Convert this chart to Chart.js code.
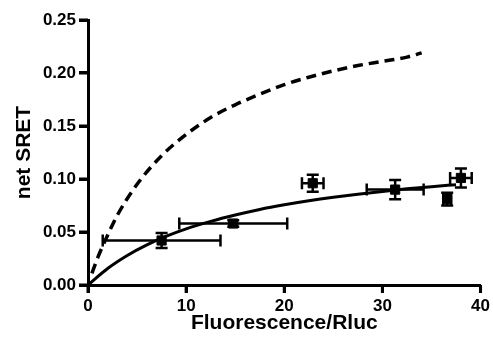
<!DOCTYPE html>
<html>
<head>
<meta charset="utf-8">
<script src="https://cdn.jsdelivr.net/npm/chart.js@4"></script>
<style>
  html, body { margin: 0; padding: 0; background: #fff; }
  canvas { display: block; }
</style>
</head>
<body>
<canvas id="chart" width="493" height="344"></canvas>
<script>
// measured points (mean, with x and y errors)
const pointX = [7.5, 14.8, 22.9, 31.3, 36.6, 38.0];
const pointY = [0.042, 0.058, 0.096, 0.090, 0.081, 0.101];
const pointXErr = [6.0, 5.5, 1.1, 2.9, 0.4, 1.1];
const pointYErr = [0.007, 0.003, 0.008, 0.009, 0.006, 0.009];

// solid fit curve
const fitX = [0, 2, 4, 6, 8, 10, 12.5, 15, 17.5, 20, 22.5, 25, 27.5, 30, 32.5, 35, 37.5];
const fitY = [0, 0.0156, 0.0279, 0.0379, 0.0461, 0.053, 0.060, 0.066, 0.0713, 0.0757, 0.0795, 0.0828, 0.0857, 0.0883, 0.0907, 0.0928, 0.0946];

// dashed curve
const dashX = [0.4, 1, 2, 3, 5, 7.5, 10, 12.5, 15, 17.5, 20, 22.5, 25, 27.5, 30, 32.5, 34];
const dashY = [0.011, 0.026, 0.047, 0.066, 0.095, 0.122, 0.142, 0.158, 0.170, 0.180, 0.189, 0.196, 0.202, 0.207, 0.211, 0.215, 0.219];

const xTicks = [0, 10, 20, 30, 40];
const yTicks = [0, 0.05, 0.10, 0.15, 0.20, 0.25];

const xTitle = 'Fluorescence/Rluc';
const yTitle = 'net SRET';

const font = 'Liberation Sans, Arial, sans-serif';

const toXY = (xs, ys) => xs.map((x, i) => ({ x, y: ys[i] }));

const errorBars = {
  id: 'errorBars',
  afterDatasetsDraw(chart) {
    const { ctx, scales: { x, y } } = chart;
    const cap = 6;
    ctx.save();
    ctx.strokeStyle = '#000';
    ctx.lineWidth = 2.5;
    pointX.forEach((px, i) => {
      const cx = x.getPixelForValue(px);
      const cy = y.getPixelForValue(pointY[i]);
      const x0 = x.getPixelForValue(px - pointXErr[i]);
      const x1 = x.getPixelForValue(px + pointXErr[i]);
      const y0 = y.getPixelForValue(pointY[i] - pointYErr[i]);
      const y1 = y.getPixelForValue(pointY[i] + pointYErr[i]);
      ctx.beginPath();
      ctx.moveTo(x0, cy); ctx.lineTo(x1, cy);
      ctx.moveTo(x0, cy - cap); ctx.lineTo(x0, cy + cap);
      ctx.moveTo(x1, cy - cap); ctx.lineTo(x1, cy + cap);
      ctx.moveTo(cx, y0); ctx.lineTo(cx, y1);
      ctx.moveTo(cx - cap, y0); ctx.lineTo(cx + cap, y0);
      ctx.moveTo(cx - cap, y1); ctx.lineTo(cx + cap, y1);
      ctx.stroke();
    });
    ctx.restore();
  }
};

// axis titles and tick marks (the built-in ones didn't show up here)
const axisExtras = {
  id: 'axisExtras',
  afterDraw(chart) {
    const { ctx, chartArea: a, scales: { x, y } } = chart;
    ctx.save();
    ctx.strokeStyle = '#000';
    ctx.lineWidth = 3;
    ctx.beginPath();
    xTicks.forEach(v => {
      const px = x.getPixelForValue(v);
      ctx.moveTo(px, a.bottom); ctx.lineTo(px, a.bottom + 8);
    });
    yTicks.forEach(v => {
      const py = y.getPixelForValue(v);
      ctx.moveTo(a.left, py); ctx.lineTo(a.left - 9, py);
    });
    ctx.stroke();

    ctx.fillStyle = '#000';
    ctx.font = 'bold 21px ' + font;
    ctx.textAlign = 'center';
    ctx.textBaseline = 'middle';
    ctx.fillText(xTitle, (a.left + a.right) / 2, 323);
    ctx.translate(24, (a.top + a.bottom) / 2);
    ctx.rotate(-Math.PI / 2);
    ctx.fillText(yTitle, 0, 0);
    ctx.restore();
  }
};

new Chart(document.getElementById('chart'), {
  type: 'scatter',
  data: {
    datasets: [
      {
        data: toXY(pointX, pointY),
        pointStyle: 'rect',
        pointRadius: 6.5,
        backgroundColor: '#000',
        borderColor: '#000',
        showLine: false
      },
      {
        data: toXY(fitX, fitY),
        showLine: true,
        pointRadius: 0,
        borderColor: '#000',
        borderWidth: 3,
        cubicInterpolationMode: 'monotone'
      },
      {
        data: toXY(dashX, dashY),
        showLine: true,
        pointRadius: 0,
        borderColor: '#000',
        borderWidth: 3.5,
        borderDash: [10, 6],
        cubicInterpolationMode: 'monotone'
      }
    ]
  },
  options: {
    responsive: false,
    animation: false,
    layout: { padding: { top: 20, right: 12, left: 0, bottom: 0 } },
    plugins: { legend: { display: false }, tooltip: { enabled: false } },
    scales: {
      x: {
        type: 'linear',
        min: 0,
        max: 40,
        afterBuildTicks: s => { s.ticks = xTicks.map(v => ({ value: v })); },
        afterFit: s => { s.height = 59; },
        border: { color: '#000', width: 3 },
        grid: { drawOnChartArea: false, color: '#000', tickColor: '#000', tickLength: 8, tickWidth: 3 },
        ticks: { color: '#000', padding: 3, font: { family: font, size: 17, weight: 'bold' } }
      },
      y: {
        min: 0,
        max: 0.25,
        afterBuildTicks: s => { s.ticks = yTicks.map(v => ({ value: v })); },
        afterFit: s => { s.width = 88; },
        border: { color: '#000', width: 3 },
        grid: { drawOnChartArea: false, color: '#000', tickColor: '#000', tickLength: 9, tickWidth: 3 },
        ticks: {
          color: '#000',
          padding: 3,
          font: { family: font, size: 17, weight: 'bold' },
          callback: v => v.toFixed(2)
        }
      }
    }
  },
  plugins: [errorBars, axisExtras]
});
</script>
</body>
</html>
